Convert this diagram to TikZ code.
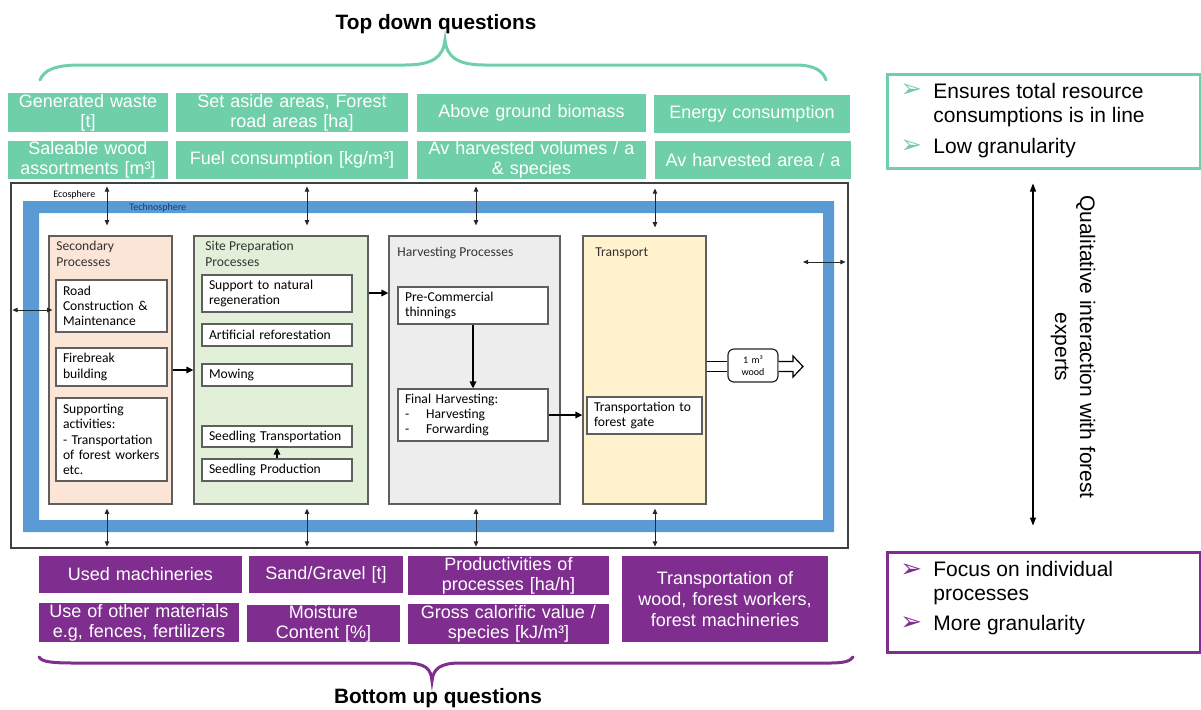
\documentclass[tikz,border=0pt]{standalone}
\usepackage{fontspec}
\setmainfont{Liberation Sans}
\newfontfamily\calib{Carlito}
\newfontfamily\dejav{DejaVu Sans}
\usetikzlibrary{arrows.meta}
\definecolor{qgreen}{RGB}{111,207,168}
\definecolor{qpurple}{RGB}{127,45,142}
\definecolor{techblue}{RGB}{91,155,213}
\definecolor{peach}{RGB}{251,229,214}
\definecolor{lgreen}{RGB}{226,240,217}
\definecolor{lgray}{RGB}{237,237,237}
\definecolor{lyellow}{RGB}{255,242,204}
\definecolor{boxgray}{RGB}{95,95,95}
\definecolor{navy}{RGB}{31,56,100}
\newcommand\qbox[7]{%
  \pgfmathsetmacro\qbw{(#5-#3)*0.5}\pgfmathsetmacro\qbh{(#6-#4)*0.5}%
  \pgfmathsetmacro\qbx{(#3+#5)/2}\pgfmathsetmacro\qby{(#4+#6)/2}%
  \pgfmathsetmacro\qtw{\qbw-7}%
  \node[#1, minimum width=\qbw pt, minimum height=\qbh pt, text width=\qtw pt] (#2) at (\qbx,\qby) {#7};}
\tikzset{
  qg/.style={fill=qgreen, text=white, font=\fontsize{9}{10}\selectfont, align=center, inner xsep=3.5pt, inner ysep=0pt},
  qp/.style={fill=qpurple, text=white, font=\fontsize{9}{10}\selectfont, align=center, inner xsep=3.5pt, inner ysep=0pt},
  colbox/.style={draw=boxgray, line width=0.6pt, inner sep=0pt},
  inb/.style={draw=boxgray, fill=white, line width=0.6pt, font=\calib\fontsize{6.8}{7.6}\selectfont, align=left, inner xsep=3.5pt, inner ysep=0pt},
  coltitle/.style={anchor=base west, font=\calib\fontsize{6.8}{7.6}\selectfont, align=left, inner sep=0pt, text=black!80},
  dbl/.style={{Triangle[length=2.6pt,width=2.2pt]}-{Triangle[length=2.6pt,width=2.2pt]}, line width=0.45pt, draw=black!85},
  flow/.style={-{Triangle[length=3.5pt,width=3.2pt]}, line width=1.1pt},
  vbi/.style={{Triangle[length=4pt,width=3pt]}-{Triangle[length=4pt,width=3pt]}, line width=0.6pt},
  rtext/.style={anchor=base west, font=\fontsize{10.5}{12}\selectfont, align=left, inner sep=0pt},
  bullet/.style={anchor=base west, font=\dejav\fontsize{13}{14}\selectfont, inner sep=0pt},
  title/.style={anchor=base, font=\bfseries\fontsize{10.4}{12}\selectfont, inner sep=0pt},
}
\begin{document}
\begin{tikzpicture}[x=0.5pt,y=-0.5pt]
\useasboundingbox (0,0) rectangle (1201,709);
% titles and braces
\node[title] (toptitle) at (436,29) {Top down questions};
\node[title] (bottitle) at (438,703) {Bottom up questions};
\draw[qgreen, line width=1.5pt, line cap=round] (40,80) .. controls (44,70) and (55,65) .. (80,65) -- (405,65) .. controls (433,65) and (443,57) .. (445,40) .. controls (447,57) and (457,65) .. (485,65) -- (795,65) .. controls (815,65) and (823,71) .. (826,80);
\draw[qpurple, line width=1.5pt, line cap=round] (39,657) .. controls (42,662) and (52,663) .. (75,663) -- (405,663) .. controls (426,663) and (431,669) .. (432,681) .. controls (433,669) and (440,663) .. (460,663) -- (830,663) .. controls (845,663) and (850,661) .. (853,657);
% top question boxes
\qbox{qg}{g1}{8}{93}{168}{132}{Generated waste\\{}[t]}
\qbox{qg}{g2}{176}{93}{408}{132}{Set aside areas, Forest\\road areas [ha]}
\qbox{qg}{g3}{417}{94}{646}{132}{Above ground biomass}
\qbox{qg}{g4}{654}{95}{850}{133}{Energy consumption}
\qbox{qg}{g5}{8}{141}{168}{179}{Saleable wood\\assortments [m³]}
\qbox{qg}{g6}{176}{141}{408}{179}{Fuel consumption [kg/m³]}
\qbox{qg}{g7}{417}{141}{646}{179}{Av harvested volumes / a\\\& species}
\qbox{qg}{g8}{655}{141}{851}{179}{Av harvested area / a}
% ecosphere and technosphere
\qbox{draw=black!75, line width=0.6pt, inner sep=0pt}{eco}{11}{183}{848}{548}{}
\fill[techblue, even odd rule] (23,201) rectangle (834,532) (39,213) rectangle (823,520);
\node[anchor=base west, font=\calib\fontsize{5}{6}\selectfont, inner sep=0pt] (ecolab) at (53,197) {Ecosphere};
\node[anchor=base west, font=\calib\fontsize{5}{6}\selectfont, inner sep=0pt, text=navy] (techlab) at (129,210) {Technosphere};
% columns
\qbox{colbox, fill=peach}{sec}{49}{236}{172}{504}{}
\qbox{colbox, fill=lgreen}{site}{194}{236}{368}{504}{}
\qbox{colbox, fill=lgray}{harv}{389}{236}{560}{504}{}
\qbox{colbox, fill=lyellow}{trans}{583}{236}{706}{504}{}
\node[coltitle] (sectitle) at (56,266) {Secondary\\Processes};
\node[coltitle] (sitetitle) at (205,266) {Site Preparation\\Processes};
\node[coltitle] (harvtitle) at (397,256) {Harvesting Processes};
\node[coltitle] (transtitle) at (595,256) {Transport};
% inner boxes
\qbox{inb}{road}{56}{280}{167}{332}{Road\\Construction \&\\Maintenance}
\qbox{inb}{fire}{56}{348}{167}{386}{Firebreak\\building}
\qbox{inb}{supp}{56}{398}{167}{481}{Supporting\\activities:\\- Transportation\\of forest workers\\etc.}
\qbox{inb}{snat}{202}{275}{352}{312}{Support to natural\\regeneration}
\qbox{inb}{arti}{202}{324}{352}{346}{Artificial reforestation}
\qbox{inb}{mow}{202}{364}{352}{386}{Mowing}
\qbox{inb}{strans}{202}{426}{352}{447}{Seedling Transportation}
\qbox{inb}{sprod}{202}{459}{352}{481}{Seedling Production}
\qbox{inb}{pre}{398}{287}{548}{324}{Pre-Commercial\\thinnings}
\qbox{inb}{final}{398}{389}{548}{441}{Final Harvesting:\\-\hspace{8.5pt}Harvesting\\-\hspace{8.5pt}Forwarding}
\qbox{inb}{tgate}{587}{397}{702}{434}{Transportation to\\forest gate}
% flows
\draw[flow] (sec.east |- 0,370) -- (site.west |- 0,370);
\draw[flow] (site.east |- 0,293) -- (harv.west |- 0,293);
\draw[flow] (final.east) -- (final.east -| trans.west);
\draw[flow] (pre.south) -- (final.north);
\draw[flow, line width=0.9pt] (sprod.north) -- (strans.south);
% output
\qbox{draw=black!85, fill=white, line width=0.6pt, rounded corners=3pt, font=\calib\fontsize{5}{6}\selectfont, align=center, inner xsep=3.5pt, inner ysep=0pt}{wood}{728}{349}{778}{382}{1 m³\\wood}
\draw[line width=0.6pt] (trans.east |- 0,361.5) -- (wood.west |- 0,361.5);
\draw[line width=0.6pt] (trans.east |- 0,371.5) -- (wood.west |- 0,371.5);
\draw[line width=0.6pt, fill=white] (wood.east |- 0,361.5) -- (793,361.5) -- (793,356) -- (803,366.5) -- (793,377) -- (793,371.5) -- (wood.east |- 0,371.5);
% exchange arrows
\draw[dbl, shorten <=2pt, shorten >=5pt] (107,0 |- eco.north) -- (107,0 |- sec.north);
\draw[dbl, shorten <=2pt, shorten >=5pt] (307,0 |- eco.north) -- (307,0 |- site.north);
\draw[dbl, shorten <=2pt, shorten >=5pt] (476,0 |- eco.north) -- (476,0 |- harv.north);
\draw[dbl, shorten <=3pt, shorten >=4pt] (655,0 |- eco.north) -- (655,0 |- trans.north);
\draw[dbl, shorten <=2pt, shorten >=1pt] (107,0 |- sec.south) -- (107,0 |- eco.south);
\draw[dbl, shorten <=2pt, shorten >=1pt] (307,0 |- site.south) -- (307,0 |- eco.south);
\draw[dbl, shorten <=2pt, shorten >=1pt] (476,0 |- harv.south) -- (476,0 |- eco.south);
\draw[dbl, shorten <=2pt, shorten >=1pt] (655,0 |- trans.south) -- (655,0 |- eco.south);
\draw[dbl, shorten <=1pt, shorten >=1.5pt] (eco.west |- 0,310) -- (road.west |- 0,310);
\coordinate (rfree) at (803,262);
\draw[dbl, shorten >=1.5pt] (rfree) -- (eco.east |- rfree);
% bottom question boxes
\qbox{qp}{p1}{39}{556}{242}{593}{Used machineries}
\qbox{qp}{p2}{249}{556}{403}{593}{Sand/Gravel [t]}
\qbox{qp}{p3}{408}{556}{609}{595}{Productivities of\\processes [ha/h]}
\qbox{qp, font=\fontsize{9}{10.5}\selectfont}{p4}{622}{556}{828}{642}{Transportation of\\wood, forest workers,\\forest machineries}
\qbox{qp}{p5}{39}{603}{239}{642}{Use of other materials\\e.g, fences, fertilizers}
\qbox{qp}{p6}{247}{605}{400}{642}{Moisture\\Content [\%]}
\qbox{qp}{p7}{408}{604}{609}{644}{Gross calorific value /\\species [kJ/m³]}
% right side
\qbox{draw=qgreen, line width=1.5pt, inner sep=0pt}{topr}{887}{74}{1200}{168}{}
\qbox{draw=qpurple, line width=1.5pt, inner sep=0pt}{botr}{887}{552}{1200}{652}{}
\node[bullet, text=qgreen] (b1) at (900,97) {➢};
\node[rtext] (t1) at (933,122) {Ensures total resource\\consumptions is in line};
\node[bullet, text=qgreen] (b2) at (900,153) {➢};
\node[rtext] (t2) at (933,153) {Low granularity};
\node[bullet, text=qpurple] (b3) at (900,577) {➢};
\node[rtext] (t3) at (933,600) {Focus on individual\\processes};
\node[bullet, text=qpurple] (b4) at (900,630) {➢};
\node[rtext] (t4) at (933,630) {More granularity};
\draw[vbi, shorten <=7pt, shorten >=12.5pt] (1033,0 |- topr.south) -- (1033,0 |- botr.north);
\node[rotate=-90, align=center, font=\fontsize{10.5}{12.5}\selectfont, inner sep=0pt] (qual) at (1073,347) {Qualitative interaction with forest\\experts};
\end{tikzpicture}
\end{document}
